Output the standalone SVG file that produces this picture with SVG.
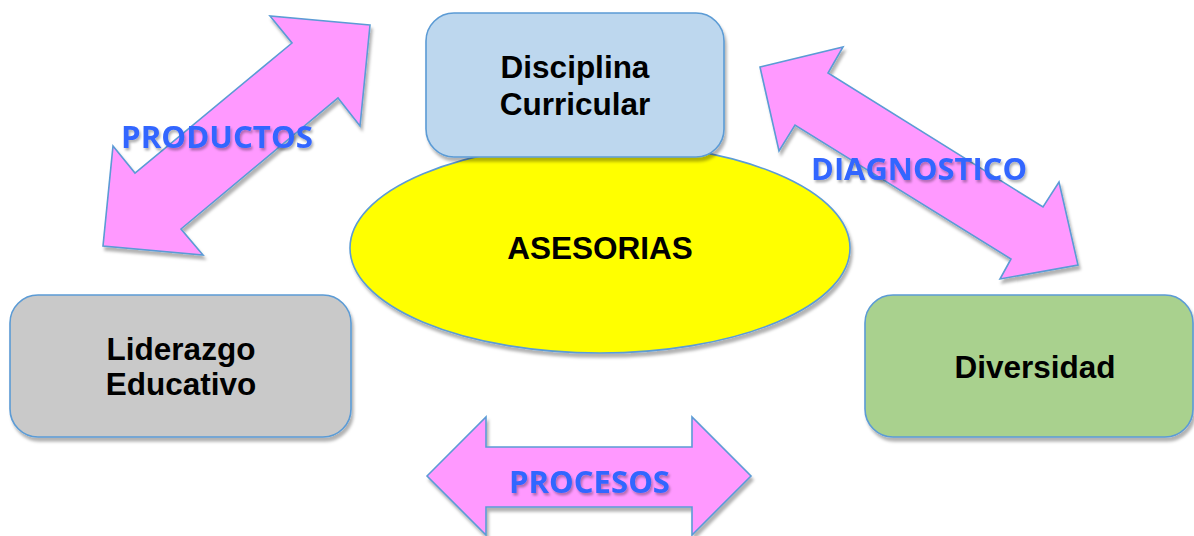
<svg xmlns="http://www.w3.org/2000/svg" width="1194" height="536" viewBox="0 0 1194 536">
<defs>
<filter id="sh" x="-10%" y="-10%" width="130%" height="130%">
<feDropShadow dx="2" dy="4" stdDeviation="1.5" flood-color="#000" flood-opacity="0.3"/>
</filter>
<filter id="tsh" x="-10%" y="-20%" width="130%" height="150%">
<feDropShadow dx="1.5" dy="2.5" stdDeviation="1" flood-color="#000" flood-opacity="0.3"/>
</filter>
</defs>
<style>
.arrow{fill:#FF99FF;stroke:#5B9BD5;stroke-width:1.6;stroke-linejoin:miter;filter:url(#sh)}
.box{stroke:#5B9BD5;stroke-width:1.6;filter:url(#sh)}
.nt{font-family:"Liberation Sans",Arial,sans-serif;font-weight:bold;font-size:31.5px;fill:#000;text-anchor:middle}
.lbl{font-family:"Open Sans",Lato,sans-serif;font-weight:bold;font-size:31px;fill:#3366FF;filter:url(#tsh)}
</style>
<g id="connectors">
<g id="arrow-productos">
<polygon class="arrow" points="370,25 270,16 292,43 135,173 113,146 103,246 203,255 181,229 338,98 360,126"/>
<text class="lbl" x="121" y="148" textLength="192" lengthAdjust="spacingAndGlyphs">PRODUCTOS</text>
</g>
<g id="arrow-diagnostico">
<polygon class="arrow" points="760,67 843,47 828,73 1043,207 1059,182 1078,265 1000,279 1011,259 795,125 779,151"/>
<text class="lbl" x="811" y="180" textLength="216" lengthAdjust="spacingAndGlyphs">DIAGNOSTICO</text>
</g>
<g id="arrow-procesos">
<polygon class="arrow" points="427,476 486,417 486,447 692,447 692,417 751,476 692,535 692,507 486,507 486,535"/>
<text class="lbl" x="509" y="493" textLength="161" lengthAdjust="spacingAndGlyphs">PROCESOS</text>
</g>
</g>
<g id="asesorias">
<ellipse class="box" cx="600" cy="248" rx="250" ry="105" fill="#FFFF00"/>
<text class="nt" x="600" y="259">ASESORIAS</text>
</g>
<g id="disciplina">
<rect class="box" x="426" y="13" width="298" height="144" rx="28" fill="#BDD7EE"/>
<text class="nt" x="575" y="78">Disciplina</text>
<text class="nt" x="575" y="115">Curricular</text>
</g>
<g id="liderazgo">
<rect class="box" x="10" y="295" width="341" height="142" rx="28" fill="#C9C9C9"/>
<text class="nt" x="181" y="360">Liderazgo</text>
<text class="nt" x="181" y="395">Educativo</text>
</g>
<g id="diversidad">
<rect class="box" x="865" y="295" width="328" height="142" rx="28" fill="#A9D18E"/>
<text class="nt" x="1035" y="378">Diversidad</text>
</g>
</svg>
